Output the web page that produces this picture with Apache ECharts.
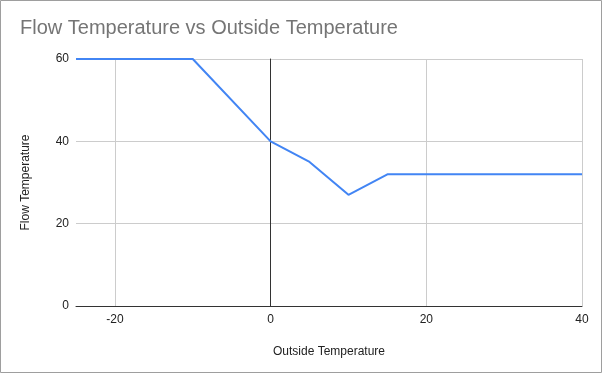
<!DOCTYPE html>
<html>
<head>
<meta charset="utf-8">
<script src="https://cdn.jsdelivr.net/npm/echarts@6/dist/echarts.min.js"></script>
<style>html,body{margin:0;padding:0;background:#fff;}#c{width:604px;height:375px;}</style>
</head>
<body>
<div id="c"></div>
<script>
var outsideTemp = [-25, -10, 0, 5, 10, 15, 40];
var flowTemp = [60, 60, 40, 35, 27, 32, 32];
var titleText = 'Flow Temperature vs Outside Temperature';
var xName = 'Outside Temperature';
var yName = 'Flow Temperature';

var chart = echarts.init(document.getElementById('c'), null, {renderer: 'canvas'});
var font = '"Liberation Sans", Arial, sans-serif';
chart.setOption({
  animation: false,
  backgroundColor: '#fff',
  textStyle: {fontFamily: font},
  title: {
    text: titleText, left: 20, top: 18, padding: 0,
    textStyle: {fontSize: 20, fontWeight: 'normal', color: '#757575', fontFamily: font}
  },
  graphic: [{
    type: 'rect', shape: {x: 0.5, y: 0.5, width: 601, height: 372},
    style: {fill: 'none', stroke: '#9e9e9e', lineWidth: 1}, silent: true, z: 100
  }],
  grid: {left: 76, right: 22, top: 59, bottom: 69, containLabel: false},
  xAxis: {
    type: 'value', min: -25, max: 40, splitNumber: 3,
    name: xName, nameLocation: 'middle', nameGap: 40,
    nameTextStyle: {fontSize: 12, color: '#222', fontFamily: font},
    axisLine: {show: true, onZero: true, lineStyle: {color: '#333', width: 1}},
    axisTick: {show: false},
    axisLabel: {fontSize: 12, color: '#222', margin: 8, showMinLabel: false, fontFamily: font},
    splitLine: {show: true, lineStyle: {color: ['rgba(0,0,0,0)', '#cccccc', '#cccccc', '#cccccc', '#cccccc'], width: 1}}
  },
  yAxis: {
    type: 'value', min: 0, max: 60, interval: 20,
    name: yName, nameLocation: 'middle', nameGap: 44,
    nameTextStyle: {fontSize: 12, color: '#222', fontFamily: font},
    axisLine: {show: true, onZero: true, lineStyle: {color: '#333', width: 1}},
    axisTick: {show: false},
    axisLabel: {fontSize: 12, color: '#222', margin: 7, fontFamily: font},
    splitLine: {show: true, lineStyle: {color: '#cccccc', width: 1}}
  },
  series: [{
    type: 'line',
    data: outsideTemp.map(function (x, i) { return [x, flowTemp[i]]; }),
    symbol: 'none',
    lineStyle: {color: '#4285f4', width: 2},
    z: 3
  }]
});
</script>
</body>
</html>
